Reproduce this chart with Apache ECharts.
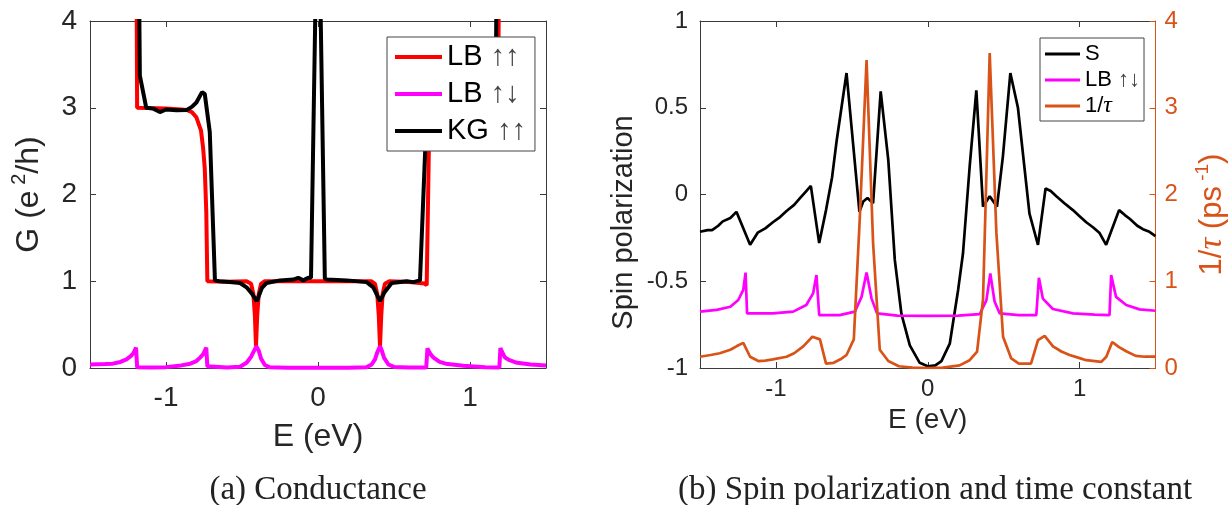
<!DOCTYPE html>
<html>
<head>
<meta charset="utf-8">
<script src="https://cdn.jsdelivr.net/npm/echarts@6/dist/echarts.min.js"></script>
<style>
  html, body { margin: 0; padding: 0; background: #fff; }
  #chart { width: 1230px; height: 505px; }
</style>
</head>
<body>
<div id="chart"></div>
<script>
// ---- (a) conductance: energy (eV) and G (e^2/h) ----
const eLBupup = [-1.5, -1.196, -1.19, -1.0, -0.9, -0.864, -0.83, -0.8, -0.77, -0.756, -0.745, -0.735, -0.728,
  -0.6, -0.47, -0.44, -0.425, -0.415, -0.408, -0.4, -0.39, -0.375, -0.35, 0, 0.35, 0.375, 0.39, 0.4, 0.408,
  0.416, 0.425, 0.44, 0.47, 0.6, 0.7, 0.715, 0.722, 0.73, 0.75, 0.8, 1.0, 1.186, 1.192, 1.5];
const gLBupup = [5.5, 5.5, 3.0, 2.99, 2.98, 2.975, 2.95, 2.89, 2.74, 2.54, 2.3, 1.8, 1.0,
  0.995, 1.0, 0.97, 0.85, 0.6, 0.25, 0.6, 0.85, 0.97, 1.0, 1.0, 1.0, 0.97, 0.85, 0.6, 0.25,
  0.6, 0.85, 0.97, 1.0, 0.99, 0.975, 0.955, 0.96, 2.6, 2.9, 2.97, 3.0, 3.02, 5.5, 5.5];

const eLBupdn = [-1.5, -1.4, -1.35, -1.3, -1.26, -1.23, -1.215, -1.197, -1.19, -1.1, -1.0, -0.9, -0.84, -0.8,
  -0.776, -0.755, -0.735, -0.728, -0.72, -0.6, -0.513, -0.47, -0.44, -0.42, -0.405, -0.39, -0.375, -0.35,
  -0.32, -0.2, 0, 0.2, 0.32, 0.353, 0.375, 0.39, 0.408, 0.42, 0.434, 0.463, 0.5, 0.6, 0.712, 0.72, 0.74,
  0.76, 0.8, 0.84, 0.956, 1.1, 1.193, 1.2, 1.215, 1.23, 1.26, 1.31, 1.4, 1.5];
const gLBupdn = [0.04, 0.045, 0.05, 0.07, 0.1, 0.14, 0.17, 0.235, 0.01, 0.005, 0.01, 0.03, 0.05, 0.08,
  0.12, 0.16, 0.235, 0.02, 0.005, 0.005, 0.015, 0.06, 0.13, 0.2, 0.25, 0.2, 0.11, 0.035,
  0.01, 0.003, 0.002, 0.003, 0.01, 0.04, 0.1, 0.18, 0.25, 0.2, 0.12, 0.04, 0.012, 0.005, 0.005, 0.225, 0.16,
  0.12, 0.07, 0.05, 0.025, 0.01, 0.005, 0.23, 0.17, 0.12, 0.09, 0.06, 0.04, 0.03];

const eKG = [-1.5, -1.185, -1.172, -1.13, -1.083, -1.04, -1.0, -0.93, -0.864, -0.83, -0.8, -0.763, -0.745,
  -0.712, -0.678, -0.65, -0.58, -0.513, -0.47, -0.436, -0.403, -0.37, -0.338, -0.25, -0.162, -0.13, -0.097,
  -0.064, -0.046, 0, 0.045, 0.06, 0.19, 0.32, 0.364, 0.408, 0.44, 0.485, 0.584, 0.627, 0.671, 0.705, 0.72,
  0.76, 0.85, 1.0, 1.15, 1.17, 1.18, 1.5];
const gKG = [6, 6, 3.37, 3.0, 2.99, 2.95, 2.98, 2.97, 2.975, 3.01, 3.06, 3.18, 3.16,
  2.72, 1.01, 1.0, 0.99, 0.98, 0.93, 0.86, 0.77, 0.92, 0.98, 1.01, 1.02, 1.04, 1.01,
  1.04, 1.04, 6, 1.03, 1.02, 1.01, 0.99, 0.93, 0.77, 0.88, 0.98, 1.0, 0.99, 1.01, 2.5, 3.1,
  3.15, 3.0, 2.98, 3.0, 3.3, 6, 6];

// ---- (b) spin polarization S, LB up-down, and 1/tau (ps^-1) ----
const eS = [-1.5, -1.45, -1.42, -1.38, -1.35, -1.3, -1.26, -1.17, -1.12, -1.07, -1.02, -0.98, -0.93, -0.88,
  -0.84, -0.8, -0.77, -0.715, -0.67, -0.63, -0.6, -0.535, -0.45, -0.425, -0.397, -0.36, -0.31, -0.26,
  -0.217, -0.173, -0.118, -0.053, 0, 0.05, 0.09, 0.145, 0.2, 0.232, 0.276, 0.32, 0.364, 0.408, 0.456,
  0.495, 0.544, 0.594, 0.67, 0.726, 0.776, 0.81, 0.847, 0.9, 0.956, 1.0, 1.044, 1.09, 1.13, 1.175, 1.26,
  1.3, 1.33, 1.38, 1.417, 1.46, 1.5];
const sS = [-0.215, -0.205, -0.205, -0.18, -0.155, -0.135, -0.1, -0.29, -0.22, -0.195, -0.16, -0.135, -0.095, -0.06,
  -0.02, 0.02, 0.05, -0.28, -0.09, 0.1, 0.31, 0.7, -0.1, -0.04, -0.02, -0.05, 0.594, 0.2,
  -0.377, -0.69, -0.87, -0.97, -0.99, -0.985, -0.96, -0.86, -0.55, -0.34, 0.16, 0.6, -0.07, -0.01, -0.07,
  0.22, 0.7, 0.5, -0.11, -0.29, 0.035, 0.02, -0.01, -0.05, -0.09, -0.125, -0.16, -0.19, -0.22, -0.29, -0.09,
  -0.12, -0.14, -0.18, -0.2, -0.215, -0.24];

const eLBb = [-1.5, -1.39, -1.3, -1.248, -1.215, -1.2, -1.19, -1.18, -1.02, -0.886, -0.8, -0.755, -0.733,
  -0.715, -0.58, -0.48, -0.436, -0.403, -0.37, -0.334, -0.2, 0, 0.2, 0.342, 0.386, 0.412, 0.44, 0.474,
  0.6, 0.715, 0.732, 0.758, 0.824, 0.956, 1.1, 1.197, 1.208, 1.24, 1.307, 1.395, 1.5];
const sLBb = [-0.675, -0.665, -0.647, -0.608, -0.55, -0.45, -0.685, -0.69, -0.685, -0.675, -0.637, -0.57, -0.464,
  -0.695, -0.695, -0.675, -0.59, -0.45, -0.6, -0.685, -0.698, -0.7, -0.698, -0.69, -0.61, -0.455, -0.617, -0.685,
  -0.695, -0.695, -0.48, -0.6, -0.66, -0.685, -0.692, -0.695, -0.464, -0.59, -0.637, -0.662, -0.67];

const eTau = [-1.5, -1.43, -1.37, -1.3, -1.26, -1.215, -1.17, -1.116, -1.07, -1.02, -0.93, -0.88, -0.82,
  -0.76, -0.71, -0.67, -0.62, -0.575, -0.535, -0.487, -0.447, -0.403, -0.36, -0.316, -0.26, -0.19, -0.1,
  0, 0.1, 0.21, 0.276, 0.325, 0.364, 0.408, 0.452, 0.496, 0.55, 0.6, 0.68, 0.726, 0.77, 0.825, 0.88,
  0.934, 0.99, 1.044, 1.143, 1.176, 1.215, 1.26, 1.31, 1.37, 1.43, 1.5];
const tau = [0.13, 0.15, 0.17, 0.21, 0.25, 0.29, 0.13, 0.08, 0.085, 0.1, 0.13, 0.17, 0.25,
  0.36, 0.33, 0.05, 0.06, 0.1, 0.15, 0.33, 1.75, 3.55, 1.44, 0.21, 0.08, 0.02, 0.005,
  0.0, 0.005, 0.03, 0.09, 0.19, 0.79, 3.63, 1.56, 0.36, 0.11, 0.05, 0.05, 0.32, 0.37, 0.25, 0.19,
  0.15, 0.12, 0.09, 0.07, 0.13, 0.3, 0.24, 0.19, 0.14, 0.13, 0.13];

// tick positions and axis ranges
const eTicks = [-1, 0, 1];
const eRange = [-1.5, 1.5];
const gRange = [0, 4];
const sRange = [-1, 1];
const tauRange = [0, 4];

const pairs = (xs, ys) => xs.map((x, i) => [x, ys[i]]);

const SANS = '"Liberation Sans", Arial, Helvetica, sans-serif';
const SERIF = '"Liberation Serif", "DejaVu Serif", serif';
const AXIS = '#3a3a3a';
const TXT = '#262626';
const ORANGE = '#d95319';

function xAxisCfg(grid, pos, withLabels, fs, margin, nameFs, nameGap) {
  return {
    type: 'value', gridIndex: grid, position: pos, min: eRange[0], max: eRange[1],
    axisLine: { show: true, onZero: false, lineStyle: { color: AXIS, width: 1 } },
    axisTick: { show: true, inside: true, length: 6, customValues: eTicks, lineStyle: { color: AXIS, width: 1 } },
    axisLabel: withLabels
      ? { show: true, customValues: eTicks, fontSize: fs, fontFamily: SANS, color: TXT, margin: margin }
      : { show: false },
    splitLine: { show: false },
    name: withLabels ? 'E (eV)' : '',
    nameLocation: 'middle', nameGap: nameGap,
    nameTextStyle: { fontSize: nameFs, fontFamily: SANS, color: TXT, lineHeight: nameFs }
  };
}

function yAxisCfg(grid, pos, range, interval, color, labelOpt, nameOpt) {
  const ax = {
    type: 'value', gridIndex: grid, position: pos, min: range[0], max: range[1], interval: interval,
    axisLine: { show: true, onZero: false, lineStyle: { color: color, width: 1 } },
    axisTick: { show: true, inside: true, length: 6, lineStyle: { color: color, width: 1 } },
    axisLabel: labelOpt || { show: false },
    splitLine: { show: false }
  };
  if (nameOpt) Object.assign(ax, nameOpt);
  return ax;
}

const legendRich = (fs, lh) => ({
  t: { fontSize: fs, fontFamily: SANS, color: '#000', lineHeight: lh },
  a: { fontSize: fs, fontFamily: SANS, color: '#444', lineHeight: lh },
  i: { fontSize: fs + 2, fontFamily: SERIF, fontStyle: 'italic', color: '#000', lineHeight: lh }
});

function legendText(name) {
  if (name === 'S') return '{t|S}';
  if (name === '1/τ') return '{t|1/}{i|τ}';
  const parts = name.split(' ');
  return '{t|' + parts[0] + '} {a|' + parts[1] + '}';
}

const option = {
  animation: false,
  backgroundColor: '#fff',
  grid: [
    { left: 90, top: 21, width: 456, height: 347, containLabel: false },
    { left: 700, top: 21, width: 456, height: 347, containLabel: false }
  ],
  xAxis: [
    xAxisCfg(0, 'bottom', true, 28, 16, 32, 53),
    xAxisCfg(0, 'top', false),
    xAxisCfg(1, 'bottom', true, 24, 9, 28, 36),
    xAxisCfg(1, 'top', false)
  ],
  yAxis: [
    yAxisCfg(0, 'left', gRange, 1, AXIS,
      { show: true, fontSize: 28, fontFamily: SANS, color: TXT, margin: 13 },
      {
        name: '{n|G (e}{s| 2}{n|/h)}', nameLocation: 'middle', nameRotate: 90, nameGap: 41,
        nameTextStyle: {
          rich: {
            n: { fontSize: 32, fontFamily: SANS, color: TXT, lineHeight: 40 },
            s: { fontSize: 20, fontFamily: SANS, color: TXT, lineHeight: 20, verticalAlign: 'top' }
          }
        }
      }),
    yAxisCfg(0, 'right', gRange, 1, AXIS),
    yAxisCfg(1, 'left', sRange, 0.5, AXIS,
      { show: true, fontSize: 24, fontFamily: SANS, color: TXT, margin: 12 },
      {
        name: 'Spin polarization', nameLocation: 'middle', nameRotate: 90, nameGap: 62,
        nameTextStyle: { fontSize: 29, fontFamily: SANS, color: TXT, lineHeight: 29, padding: [0, 56, 0, 0] }
      }),
    yAxisCfg(1, 'right', tauRange, 1, ORANGE,
      { show: true, fontSize: 24, fontFamily: SANS, color: ORANGE, margin: 9 },
      {
        name: '{n|1/}{i|τ}{n| (ps}{s| -1}{n|)}', nameLocation: 'middle', nameRotate: 90, nameGap: 38,
        nameTextStyle: {
          padding: [0, 40, 0, 0],
          rich: {
            n: { fontSize: 31, fontFamily: SANS, color: ORANGE, lineHeight: 38 },
            i: { fontSize: 33, fontFamily: SERIF, fontStyle: 'italic', color: ORANGE, lineHeight: 38 },
            s: { fontSize: 19, fontFamily: SANS, color: ORANGE, lineHeight: 19, verticalAlign: 'top' }
          }
        }
      })
  ],
  legend: [
    {
      data: ['LB ↑↑', 'LB ↑↓', 'KG ↑↑'], orient: 'vertical', left: 387, top: 37,
      icon: 'rect', itemWidth: 47, itemHeight: 4, itemGap: 5,
      padding: [4, 9, 4, 8], backgroundColor: '#fff', borderColor: '#444', borderWidth: 1,
      formatter: legendText,
      textStyle: { fontSize: 29, fontFamily: SANS, color: '#000', lineHeight: 32, rich: legendRich(29, 32) }
    },
    {
      data: ['S', 'LB ↑↓ ', '1/τ'], orient: 'vertical', left: 1040, top: 38,
      icon: 'rect', itemWidth: 35, itemHeight: 3, itemGap: 2,
      padding: [4, 4, 3, 5], backgroundColor: '#fff', borderColor: '#444', borderWidth: 1,
      formatter: (n) => legendText(n.trim()),
      textStyle: { fontSize: 22, fontFamily: SANS, color: '#000', lineHeight: 24, rich: legendRich(22, 24) }
    }
  ],
  series: [
    { name: 'LB ↑↑', type: 'line', xAxisIndex: 0, yAxisIndex: 0, showSymbol: false, symbol: 'none',
      data: pairs(eLBupup, gLBupup), lineStyle: { color: '#ff0000', width: 4 }, itemStyle: { color: '#ff0000' } },
    { name: 'LB ↑↓', type: 'line', xAxisIndex: 0, yAxisIndex: 0, showSymbol: false, symbol: 'none',
      data: pairs(eLBupdn, gLBupdn), lineStyle: { color: '#ff00ff', width: 4 }, itemStyle: { color: '#ff00ff' } },
    { name: 'KG ↑↑', type: 'line', xAxisIndex: 0, yAxisIndex: 0, showSymbol: false, symbol: 'none',
      data: pairs(eKG, gKG), lineStyle: { color: '#000000', width: 4 }, itemStyle: { color: '#000000' } },
    { name: 'S', type: 'line', xAxisIndex: 2, yAxisIndex: 2, showSymbol: false, symbol: 'none',
      data: pairs(eS, sS), lineStyle: { color: '#000000', width: 2.7 }, itemStyle: { color: '#000000' } },
    { name: 'LB ↑↓ ', type: 'line', xAxisIndex: 2, yAxisIndex: 2, showSymbol: false, symbol: 'none',
      data: pairs(eLBb, sLBb), lineStyle: { color: '#ff00ff', width: 2.7 }, itemStyle: { color: '#ff00ff' } },
    { name: '1/τ', type: 'line', xAxisIndex: 2, yAxisIndex: 3, showSymbol: false, symbol: 'none',
      data: pairs(eTau, tau), lineStyle: { color: ORANGE, width: 2.7 }, itemStyle: { color: ORANGE } }
  ],
  graphic: [
    { type: 'text', x: 318, y: 490, style: { text: '(a) Conductance', font: '33px ' + SERIF, fill: '#222', align: 'center', verticalAlign: 'middle' } },
    { type: 'text', x: 935, y: 490, style: { text: '(b) Spin polarization and time constant', font: '33px ' + SERIF, fill: '#222', align: 'center', verticalAlign: 'middle' } }
  ]
};

const chart = echarts.init(document.getElementById('chart'), null, { renderer: 'canvas' });
chart.setOption(option);
</script>
</body>
</html>
